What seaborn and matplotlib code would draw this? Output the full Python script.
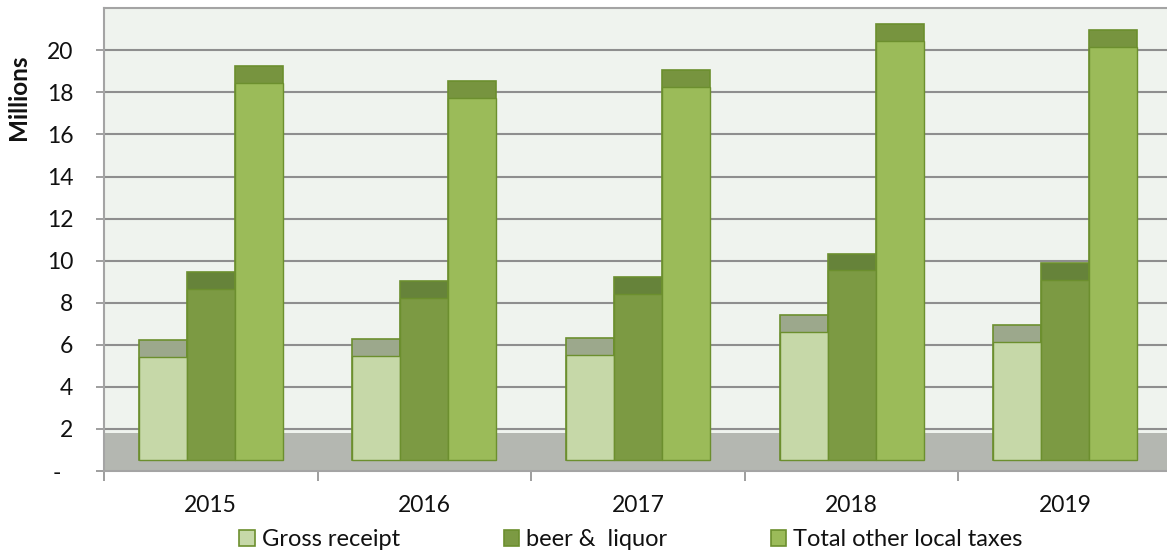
import matplotlib
matplotlib.use("Agg")
import matplotlib.pyplot as plt
from matplotlib.patches import Patch
import seaborn as sns
import pandas as pd
import numpy as np

# ---- data (millions) ----
years = ["2015", "2016", "2017", "2018", "2019"]
series = ["Gross receipt", "beer &  liquor", "Total other local taxes"]
gross_receipt = [6.22, 6.27, 6.30, 7.41, 6.94]
beer_liquor = [9.44, 9.04, 9.23, 10.34, 9.87]
total_other = [19.25, 18.54, 19.05, 21.24, 20.98]
ytick_vals = [0, 2, 4, 6, 8, 10, 12, 14, 16, 18, 20]
ytick_labels = ["-  ", "2", "4", "6", "8", "10", "12", "14", "16", "18", "20"]

# ---- style ----
FONT = "Lato"
BASE = 0.52      # bar bottom inside the 3-D floor
CAP = 0.80       # thickness of the darker top face
FLOOR = 1.8
front_colors = ["#c6d8a8", "#7c9a43", "#9bbb59"]
cap_colors = ["#9ca88c", "#66833a", "#77943f"]
edge = "#6c8f2e"
TXT = "#111111"

sns.set_theme(style="white")
plt.rcParams["font.family"] = [FONT, "DejaVu Sans"]

df = pd.DataFrame({
    "year": np.repeat(years, 3),
    "series": series * len(years),
    "value": np.ravel(np.column_stack([gross_receipt, beer_liquor, total_other])),
})
df["cap_h"] = df["value"] - BASE
df["front_h"] = df["value"] - CAP - BASE

fig = plt.figure(figsize=(11.67, 5.52), dpi=100)
ax = fig.add_axes([104 / 1167, 81 / 552, (1172 - 104) / 1167, (471 - 8.3) / 552])
ax.set_facecolor("#eff3ee")

# floor slab
ax.axhspan(0, FLOOR, color="#b4b7b1", zorder=1, lw=0)

sns.barplot(data=df, x="year", y="cap_h", hue="series", palette=cap_colors,
            width=0.675, gap=0, dodge=True, bottom=BASE, edgecolor=edge,
            linewidth=1.2, legend=False, ax=ax, zorder=3, saturation=1)
sns.barplot(data=df, x="year", y="front_h", hue="series", palette=front_colors,
            width=0.675, gap=0, dodge=True, bottom=BASE, edgecolor=edge,
            linewidth=1.0, legend=False, ax=ax, zorder=4, saturation=1)

ax.set_xlim(-0.5, 4.5)
ax.set_ylim(0, 22)
ax.set_xlabel("")
ax.set_ylabel("")

# gridlines
for v in ytick_vals[1:]:
    ax.axhline(v, color="#8e8e8e", lw=1.5, zorder=0.5)

ax.set_yticks(ytick_vals)
ax.set_yticklabels(ytick_labels, fontsize=16.5, color=TXT)
ax.tick_params(axis="y", which="major", direction="out", length=6, width=1.2,
               color="#8e8e8e", pad=16, left=True)

ax.set_xticks(range(len(years)))
ax.set_xticklabels(years, fontsize=16.5, color=TXT)
ax.set_xticks(np.arange(-0.5, len(years), 1.0), minor=True)
ax.tick_params(axis="x", which="major", length=0, pad=17)
ax.tick_params(axis="x", which="minor", direction="out", length=7, width=1.2,
               color="#8e8e8e", bottom=True)

for s in ["left", "top", "bottom"]:
    ax.spines[s].set_color("#a4a4a4")
    ax.spines[s].set_linewidth(1.5)
ax.spines["right"].set_visible(False)

fig.text(19 / 1167, 1 - 97 / 552, "Millions", rotation=90, ha="center",
         va="center", fontsize=17.5, fontweight="bold", color=TXT)

handles = [Patch(facecolor=c, edgecolor=edge, linewidth=1.2) for c in front_colors]
fig.legend(handles, series, loc="center", bbox_to_anchor=(631 / 1167, 12 / 552),
           ncol=3, frameon=False, fontsize=17, handlelength=0.65,
           handleheight=0.65, handletextpad=0.3, columnspacing=4.4,
           borderpad=0, borderaxespad=0, labelcolor=TXT)

fig.savefig("out.png", dpi=100)
